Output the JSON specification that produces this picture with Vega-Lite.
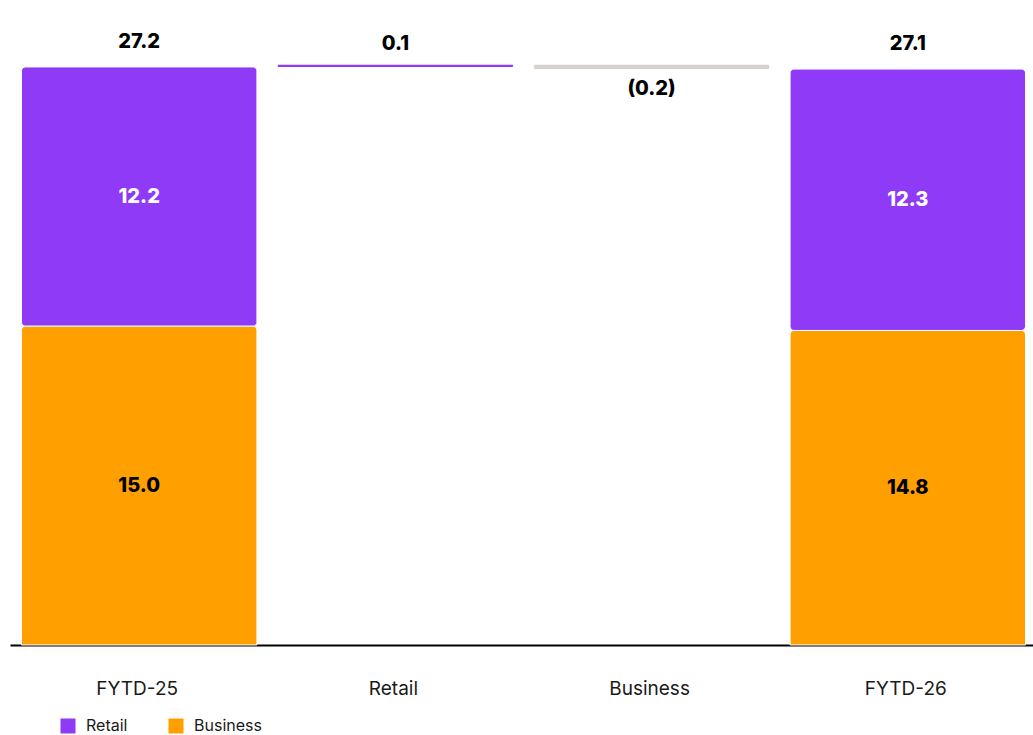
{
  "$schema": "https://vega.github.io/schema/vega-lite/v6.json",
  "width": 1023,
  "height": 645,
  "autosize": {"type": "none"},
  "padding": {"left": 10, "top": 0, "right": 0, "bottom": 90},
  "background": "white",
  "config": {"view": {"stroke": null}, "font": "Inter"},
  "datasets": {
    "bars": [
      {"cat": "FYTD-25", "series": "Business", "start": 0, "end": 15.0, "label": "15.0"},
      {"cat": "FYTD-25", "series": "Retail", "start": 15.0, "end": 27.2, "label": "12.2"},
      {"cat": "Retail", "series": "Retail", "start": 27.2, "end": 27.3, "label": "0.1"},
      {"cat": "Business", "series": "Decrease", "start": 27.3, "end": 27.1, "label": "(0.2)"},
      {"cat": "FYTD-26", "series": "Business", "start": 0, "end": 14.8, "label": "14.8"},
      {"cat": "FYTD-26", "series": "Retail", "start": 14.8, "end": 27.1, "label": "12.3"}
    ],
    "totals": [
      {"cat": "FYTD-25", "total": 27.2, "label": "27.2"},
      {"cat": "FYTD-26", "total": 27.1, "label": "27.1"}
    ]
  },
  "encoding": {
    "x": {
      "field": "cat", "type": "nominal",
      "sort": ["FYTD-25", "Retail", "Business", "FYTD-26"],
      "scale": {"paddingInner": 0.081, "paddingOuter": 0.037},
      "axis": {
        "title": null, "labelAngle": 0, "ticks": false, "tickSize": 0,
        "domainColor": "#000000", "domainWidth": 2,
        "labelFontSize": 19, "labelColor": "#1a1a1a", "labelFont": "Inter",
        "labelBaseline": "alphabetic", "labelPadding": 49
      }
    }
  },
  "layer": [
    {
      "data": {"name": "bars"},
      "transform": [{"filter": "(datum.cat === 'FYTD-25' || datum.cat === 'FYTD-26') && datum.series === 'Retail'"}],
      "mark": {"type": "bar", "cornerRadius": 4, "stroke": "white", "strokeWidth": 1, "xOffset": 2},
      "encoding": {
        "y": {"field": "start", "type": "quantitative", "scale": {"domain": [0, 30.35], "nice": false}, "axis": null},
        "y2": {"field": "end"},
        "color": {
          "field": "series", "type": "nominal",
          "scale": {"domain": ["Retail", "Business", "Decrease"], "range": ["#8E3AF7", "#FF9F00", "#D6D1CC"]},
          "legend": {
            "title": null, "values": ["Retail", "Business"], "orient": "none",
            "direction": "horizontal", "legendX": 50, "legendY": 718,
            "symbolType": "square", "symbolSize": 225, "symbolStrokeWidth": 0,
            "symbolOpacity": 1,
            "labelFontSize": 16, "labelFont": "Inter", "labelColor": "#1a1a1a",
            "labelOffset": 10, "columnPadding": 40, "padding": 0
          }
        }
      }
    },
    {
      "data": {"name": "bars"},
      "transform": [{"filter": "(datum.cat === 'FYTD-25' || datum.cat === 'FYTD-26') && datum.series === 'Business'"}],
      "mark": {"type": "bar", "cornerRadiusTopLeft": 4, "cornerRadiusTopRight": 4, "stroke": "white", "strokeWidth": 1, "xOffset": 2},
      "encoding": {
        "y": {"field": "start", "type": "quantitative"},
        "y2": {"field": "end"},
        "color": {"field": "series", "type": "nominal"}
      }
    },
    {
      "data": {"name": "bars"},
      "transform": [{"filter": "datum.cat === 'Retail' || datum.cat === 'Business'"}],
      "mark": {"type": "bar", "cornerRadius": 1.5, "xOffset": 2},
      "encoding": {
        "y": {"field": "start", "type": "quantitative"},
        "y2": {"field": "end"},
        "color": {"field": "series", "type": "nominal"}
      }
    },
    {
      "data": {"name": "bars"},
      "transform": [
        {"filter": "datum.cat === 'FYTD-25' || datum.cat === 'FYTD-26'"},
        {"calculate": "(datum.start + datum.end) / 2", "as": "mid"}
      ],
      "mark": {"type": "text", "fontSize": 20, "fontWeight": 800, "font": "Inter", "baseline": "middle", "xOffset": 2},
      "encoding": {
        "y": {"field": "mid", "type": "quantitative"},
        "text": {"field": "label"},
        "color": {"condition": {"test": "datum.series === 'Retail'", "value": "white"}, "value": "#000000"}
      }
    },
    {
      "data": {"name": "bars"},
      "transform": [{"filter": "datum.cat === 'Retail'"}],
      "mark": {"type": "text", "fontSize": 20, "fontWeight": 800, "font": "Inter", "baseline": "middle", "dy": -21, "color": "#000000", "xOffset": 2},
      "encoding": {
        "y": {"field": "end", "type": "quantitative"},
        "text": {"field": "label"}
      }
    },
    {
      "data": {"name": "bars"},
      "transform": [{"filter": "datum.cat === 'Business'"}],
      "mark": {"type": "text", "fontSize": 20, "fontWeight": 800, "font": "Inter", "baseline": "middle", "dy": 20, "color": "#000000", "xOffset": 2},
      "encoding": {
        "y": {"field": "end", "type": "quantitative"},
        "text": {"field": "label"}
      }
    },
    {
      "data": {"name": "totals"},
      "mark": {"type": "text", "fontSize": 20, "fontWeight": 800, "font": "Inter", "baseline": "middle", "dy": -25, "color": "#000000", "xOffset": 2},
      "encoding": {
        "y": {"field": "total", "type": "quantitative"},
        "text": {"field": "label"}
      }
    }
  ]
}
